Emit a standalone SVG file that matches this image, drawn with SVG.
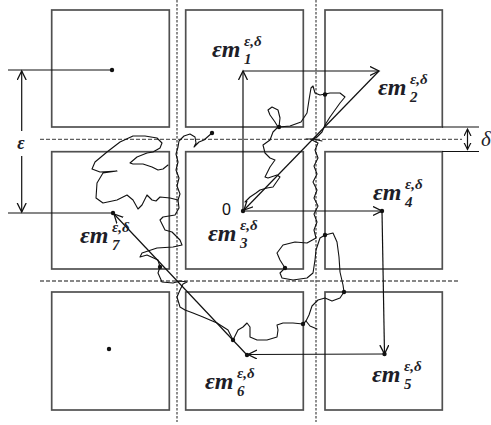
<svg xmlns="http://www.w3.org/2000/svg" width="491" height="425" viewBox="0 0 491 425">
<style>
.box{fill:#fff;stroke:#505050;stroke-width:1.7}
.dash{stroke:#606060;stroke-width:1.3;stroke-dasharray:4 2;fill:none}
.vdash{stroke:#606060;stroke-width:1.4;stroke-dasharray:2.5 1.5;fill:none}
.ln{stroke:#111;stroke-width:1.2;fill:none}
.arr{stroke:#111;stroke-width:1.2;fill:none;marker-end:url(#ah)}
.wig{stroke:#111;stroke-width:1.1;fill:none;stroke-linejoin:round;stroke-linecap:round}
.dot{fill:#111}
.lbl{font-family:"Liberation Serif","DejaVu Serif",serif;font-weight:bold;font-style:italic;font-size:24px;fill:#1e1e28}
.sup{font-family:"Liberation Serif","DejaVu Serif",serif;font-weight:bold;font-style:italic;font-size:15px;fill:#1e1e28}
.zero{font-family:"Liberation Sans","DejaVu Sans",sans-serif;font-size:16px;fill:#111}
</style>
<defs>
<marker id="ah" markerUnits="userSpaceOnUse" markerWidth="12" markerHeight="12" refX="9" refY="5" orient="auto-start-reverse">
<path d="M0,0.5 L9,5 L0,9.5" fill="none" stroke="#111" stroke-width="1.3"/>
</marker>
<marker id="ahs" markerUnits="userSpaceOnUse" markerWidth="10" markerHeight="10" refX="7" refY="4" orient="auto-start-reverse">
<path d="M0,0.5 L7,4 L0,7.5" fill="none" stroke="#111" stroke-width="1.2"/>
</marker>
</defs>

<g id="grid">
<rect class="box" x="51.7" y="10" width="117.6" height="117"/>
<rect class="box" x="185.7" y="10" width="117.6" height="117"/>
<rect class="box" x="325" y="10" width="117.3" height="117"/>
<rect class="box" x="51.7" y="151.7" width="117.6" height="117.3"/>
<rect class="box" x="185.7" y="151.7" width="117.6" height="117.3"/>
<rect class="box" x="325" y="151.7" width="117.3" height="117.3"/>
<rect class="box" x="51.7" y="292" width="117.6" height="118"/>
<rect class="box" x="185.7" y="292" width="117.6" height="118"/>
<rect class="box" x="325" y="292" width="117.3" height="118"/>
<line class="vdash" x1="177" y1="0" x2="177" y2="422"/>
<line class="vdash" x1="316" y1="0" x2="316" y2="422"/>
<line class="dash" x1="40" y1="139.3" x2="462" y2="139.3"/>
<line class="dash" x1="40" y1="281" x2="458" y2="281"/>
</g>

<g id="dimensions">
<line class="ln" x1="442" y1="127" x2="479" y2="127"/>
<line class="ln" x1="442" y1="151.5" x2="479" y2="151.5"/>
<line class="ln" x1="467.5" y1="129" x2="467.5" y2="149.5" style="marker-start:url(#ahs);marker-end:url(#ahs)"/>
<line class="ln" x1="8" y1="70" x2="112" y2="70"/>
<line class="ln" x1="8" y1="213" x2="113" y2="213"/>
<line class="ln" x1="21.7" y1="131" x2="21.7" y2="71" style="marker-end:url(#ah)"/>
<line class="ln" x1="21.7" y1="156" x2="21.7" y2="212" style="marker-end:url(#ah)"/>
<text x="21" y="149" text-anchor="middle" style="font-family:'Liberation Serif',serif;font-style:italic;font-weight:bold;font-size:18px;fill:#1e1e28">ε</text>
<text x="481" y="146" style="font-family:'Liberation Serif',serif;font-style:italic;font-size:21px;fill:#1e1e28">δ</text>
</g>

<g id="paths">
<path class="wig" d="M245,202 L250,197 L256,193 L260,190 L267,188 L273,187 L280,177 L277,175 L268,178 L265,177 L270,167 L275,160 L270,158 L265,153 L263,145 L270,140 L273,132 L278,127 L275,122 L270,115 L268,110 L272,107 L278,110 L280,118 L279,127 L290,126 L301,122 L307,113 L309,100 L311,88 L313,86 L315,93 L320,95 L325,94 L330,93 L340,93 L345,97 L340,103 L335,110 L330,117 L325,125 L322,132 L317,137 L312,140 L318,143 L315,150 L318,158 L314,166 L317,174 L313,182 L317,190 L314,198 L318,206 L314,214 L317,222 L314,230 L316,238 L307,243 L295,242 L283,245 L277,253 L280,260 L285,268 L280,273 L282,278 L293,280 L307,278 L313,273 L315,260 L316,250 L320,238 L325,235 L333,233 L337,242 L339,257 L340,272 L343,285 L344,292 L340,298 L332,301 L325,298 L318,300 L312,306 L309,315 L306,321 L303,324 L293,323 L283,323 L277,325 L278,330 L277,337 L267,340 L257,340 L250,337 L250,327 L247,323 L243,327 L238,330 L233,340 L228,330 L217,323 L203,317 L193,313 L185,310 L180,307 L177,297 L180,290 L183,284 L187,282 L180,281 L173,283 L162,282 L158,273 L160,267 L158,260 L147,255 L140,257 L142,253 L157,248 L173,247 L182,245 L180,240 L172,232 L165,230 L160,220 L163,217 L175,215 L179,208 L178,200 L170,198 L160,197 L156,201 L152,200 L147,195 L142,205 L138,209 L133,200 L127,195 L117,200 L103,203 L96,198 L97,183 L103,173 L117,171 L100,172 L92,169 L95,162 L107,152 L120,142 L133,136 L145,136 L157,138 L162,143 L160,148 L153,152 L147,153 L137,157 L130,163 L133,164 L143,164 L152,167 L158,170 L163,169 L168,165"/>
<path class="wig" d="M306,321 L310,326 L317,329"/>
<path class="wig" d="M178,200 L180,194 L177,186 L179,178 L176,170 L178,162 L176,154 L178,147 L179,141 L184,136 L190,134 L195,137 L196,143 L194,147 L199,142 L204,140 L212,133"/>
<path class="wig" d="M306,139 L313,139 L322,141"/>
<circle class="dot" cx="212" cy="133" r="2.2"/>
<circle class="dot" cx="279" cy="127" r="2.2"/>
<circle class="dot" cx="325" cy="94.5" r="2.2"/>
<circle class="dot" cx="285" cy="268" r="2.2"/>
<circle class="dot" cx="325" cy="235" r="2.2"/>
<circle class="dot" cx="344" cy="292" r="2.2"/>
<circle class="dot" cx="303" cy="324" r="2.2"/>
<circle class="dot" cx="233" cy="340" r="2.2"/>
<circle class="dot" cx="160" cy="267" r="2.2"/>
</g>

<g id="connectors">
<line class="arr" x1="243" y1="211" x2="243" y2="71"/>
<line class="arr" x1="243" y1="71" x2="379" y2="71"/>
<line class="arr" x1="379" y1="71" x2="244" y2="210"/>
<line class="arr" x1="243" y1="211" x2="382" y2="211"/>
<line class="arr" x1="382" y1="211" x2="384.5" y2="354"/>
<line class="arr" x1="384.5" y1="354" x2="248" y2="354.5"/>
<line class="arr" x1="247" y1="355" x2="114" y2="214"/>
</g>

<g id="n-top-left"><circle class="dot" cx="112" cy="70" r="2.2"/></g>
<g id="n-bottom-left"><circle class="dot" cx="109" cy="349" r="2.2"/></g>
<g id="n0"><circle class="dot" cx="243" cy="211" r="2.2"/><text class="zero" x="222" y="215">0</text></g>
<g id="m1"><text class="lbl" x="212" y="57">εm</text><text class="sup" x="244" y="46">ε,δ</text><text class="sup" x="244" y="64">1</text></g>
<g id="m2"><text class="lbl" x="378" y="95">εm</text><text class="sup" x="410" y="84">ε,δ</text><text class="sup" x="410" y="102">2</text></g>
<g id="m3"><text class="lbl" x="208" y="241">εm</text><text class="sup" x="240" y="230">ε,δ</text><text class="sup" x="240" y="248">3</text></g>
<g id="m4"><circle class="dot" cx="382" cy="211" r="2.2"/><text class="lbl" x="373" y="200">εm</text><text class="sup" x="405" y="189">ε,δ</text><text class="sup" x="405" y="207">4</text></g>
<g id="m5"><circle class="dot" cx="384.5" cy="354" r="2.2"/><text class="lbl" x="372" y="382">εm</text><text class="sup" x="404" y="371">ε,δ</text><text class="sup" x="404" y="389">5</text></g>
<g id="m6"><circle class="dot" cx="247" cy="355" r="2.2"/><text class="lbl" x="205" y="389">εm</text><text class="sup" x="237" y="378">ε,δ</text><text class="sup" x="237" y="396">6</text></g>
<g id="m7"><circle class="dot" cx="113" cy="213" r="2.2"/><text class="lbl" x="80" y="243">εm</text><text class="sup" x="112" y="232">ε,δ</text><text class="sup" x="112" y="250">7</text></g>
</svg>
